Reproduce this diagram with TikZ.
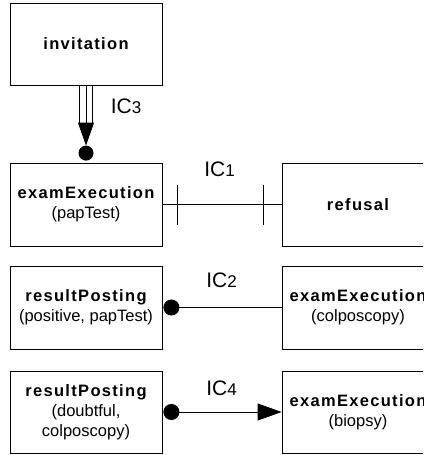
\documentclass[tikz,border=0pt]{standalone}
\usepackage{fontspec}
\setmainfont{Liberation Sans}
\usetikzlibrary{arrows.meta}
\newcommand{\bxname}[1]{{\bfseries\addfontfeature{LetterSpace=8}#1}}
\newcommand{\icname}[1]{IC{\fontsize{17}{19}\selectfont #1}}
\begin{document}
\begin{tikzpicture}[x=1pt, y=-1pt, line width=0.8pt,
    box/.style={draw, align=center, minimum width=152pt, inner sep=2pt, font=\fontsize{16.5}{20}\selectfont},
    iclabel/.style={font=\fontsize{21}{23}\selectfont, inner sep=0pt}]
    \clip (0,0) rectangle (423,455);
    % boxes
    \node[box, minimum height=82pt] (inv) at (86,44) {\bxname{invitation}};
    \node[box, minimum height=83pt] (papTest) at (86,204.5) {\bxname{examExecution}\\(papTest)};
    \node[box, minimum height=83pt] (refusal) at (358,204.5) {\bxname{refusal}};
    \node[box, minimum height=83pt] (pos) at (86,307.5) {\bxname{resultPosting}\\(positive, papTest)};
    \node[box, minimum height=83pt] (colpo) at (358,307.5) {\bxname{examExecution}\\(colposcopy)};
    \node[box, minimum height=82pt] (doubt) at (86,412) {\bxname{resultPosting}\\(doubtful,\\colposcopy)};
    \node[box, minimum height=82pt] (biopsy) at (358,412) {\bxname{examExecution}\\(biopsy)};
    % IC3
    \coordinate (dot3) at ([yshift=9.5pt]papTest.north);
    \coordinate (tip3) at ([yshift=17pt]papTest.north);
    \draw ([xshift=-6.5pt]inv.south) -- ([xshift=-6.5pt,yshift=-38pt]inv.south);
    \draw ([xshift=6.5pt]inv.south) -- ([xshift=6.5pt,yshift=-38pt]inv.south);
    \draw[-{Triangle[width=16pt,length=23pt]}] (inv.south) -- (tip3);
    \fill (dot3) circle (7.5pt);
    \node[iclabel] (ic3) at (126,106.5) {\icname{3}};
    % IC1
    \draw (papTest.east) -- (refusal.west);
    \draw ([xshift=15pt,yshift=20pt]papTest.east) -- ([xshift=15pt,yshift=-20pt]papTest.east);
    \draw ([xshift=-18pt,yshift=20pt]refusal.west) -- ([xshift=-18pt,yshift=-20pt]refusal.west);
    \node[iclabel] (ic1) at (219.5,169.5) {\icname{1}};
    % IC2
    \draw[{Circle[length=16pt]}-] ([xshift=1pt]pos.east) -- (colpo.west);
    \node[iclabel] (ic2) at (221.5,280.5) {\icname{2}};
    % IC4
    \draw[{Circle[length=16pt]}-{Triangle[length=24pt,width=17pt]}] ([xshift=1pt]doubt.east) -- (biopsy.west);
    \node[iclabel] (ic4) at (221.5,388.5) {\icname{4}};
\end{tikzpicture}
\end{document}
